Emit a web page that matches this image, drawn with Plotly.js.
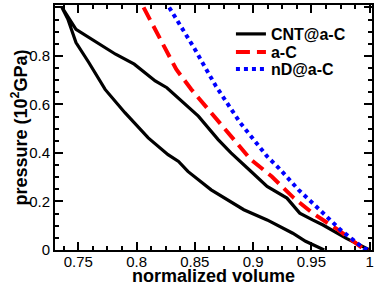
<!DOCTYPE html>
<html>
<head>
<meta charset="utf-8">
<script src="https://cdn.plot.ly/plotly-3.0.1.min.js"></script>
<style>html,body{margin:0;padding:0;background:#fff;}#chart{width:374px;height:285px;}</style>
</head>
<body>
<div id="chart"></div>
<script>
// CNT@a-C: hysteresis loop (lower branch from V=0.961 up to P=1, then upper branch down to V=1)
var cntVolume = [0.961, 0.945, 0.934, 0.912, 0.892, 0.864, 0.844, 0.836, 0.827, 0.810, 0.790, 0.773, 0.759, 0.748, 0.741, 0.736,
                 0.748, 0.757, 0.766, 0.782, 0.798, 0.816, 0.826, 0.844, 0.853, 0.870, 0.881, 0.895, 0.912, 0.929, 0.940, 0.951, 0.960, 0.980, 1.0];
var cntPressure = [0.0, 0.036, 0.069, 0.124, 0.166, 0.248, 0.324, 0.365, 0.393, 0.462, 0.566, 0.662, 0.773, 0.855, 0.952, 1.0,
                   0.91, 0.883, 0.855, 0.807, 0.766, 0.697, 0.669, 0.593, 0.552, 0.455, 0.400, 0.338, 0.262, 0.214, 0.152, 0.124, 0.103, 0.048, 0.0];
// a-C
var acVolume = [0.806, 0.820, 0.834, 0.847, 0.858, 0.878, 0.898, 0.916, 0.935, 0.951, 0.973, 0.994, 1.0];
var acPressure = [1.0, 0.869, 0.745, 0.662, 0.600, 0.483, 0.373, 0.303, 0.214, 0.152, 0.083, 0.007, 0.0];
// nD@a-C
var ndVolume = [0.828, 0.840, 0.850, 0.855, 0.868, 0.889, 0.912, 0.922, 0.939, 0.957, 0.975, 0.995, 1.0];
var ndPressure = [1.0, 0.91, 0.828, 0.785, 0.676, 0.524, 0.386, 0.338, 0.248, 0.166, 0.083, 0.007, 0.0];

var seriesNames = ["CNT@a-C", "a-C", "nD@a-C"];
var xTitle = "normalized volume";
var yTitle = "pressure (10<sup>2</sup>GPa)";

var FONT = "Liberation Sans, Arial, Helvetica, sans-serif";

var traces = [
  {x: cntVolume, y: cntPressure, mode: 'lines', name: '<b>' + seriesNames[0] + '</b>', legend: 'legend',
   line: {color: '#000000', width: 3.2}},
  {x: acVolume, y: acPressure, mode: 'lines', name: '<b>' + seriesNames[1] + '</b>', legend: 'legend2',
   line: {color: '#ff0000', width: 4, dash: '14px,7px'}},
  {x: ndVolume, y: ndPressure, mode: 'lines', name: '<b>' + seriesNames[2] + '</b>', legend: 'legend3',
   line: {color: '#0000ff', width: 4, dash: '4px,4px'}}
];

function leg(y) {
  return {x: 0.555, xanchor: 'left', y: y, yanchor: 'middle', bgcolor: 'rgba(0,0,0,0)', borderwidth: 0,
          font: {family: FONT, size: 16, color: '#000'}, itemwidth: 30};
}

var axisCommon = {
  showgrid: false, zeroline: false, showline: true, linecolor: '#000', linewidth: 2, mirror: 'allticks',
  ticks: 'inside', ticklen: 8, tickwidth: 2, tickcolor: '#000',
  tickfont: {family: FONT, size: 15, color: '#000'}
};

var layout = {
  width: 374, height: 285,
  margin: {l: 55, r: 2, t: 5, b: 35},
  paper_bgcolor: '#fff', plot_bgcolor: '#fff',
  showlegend: true,
  legend: leg(0.8816), legend2: leg(0.8082), legend3: leg(0.7388),
  xaxis: Object.assign({}, axisCommon, {
    range: [0.73, 1.002], tick0: 0.75, dtick: 0.05, ticklabelstandoff: -3,
    minor: {dtick: 0.0125, tick0: 0.75, ticks: 'inside', ticklen: 4, tickwidth: 2, tickcolor: '#000'}
  }),
  yaxis: Object.assign({}, axisCommon, {
    range: [0, 1.01], tick0: 0, dtick: 0.2,
    minor: {dtick: 0.05, tick0: 0, ticks: 'inside', ticklen: 4, tickwidth: 2, tickcolor: '#000'}
  }),
  annotations: [
    {text: '<b>' + xTitle + '</b>', xref: 'paper', yref: 'paper', x: 0.5, y: -0.106,
     xanchor: 'center', yanchor: 'middle', showarrow: false, font: {family: FONT, size: 18, color: '#000'}},
    {text: '<b>' + yTitle + '</b>', xref: 'paper', yref: 'paper', x: -0.1104, y: 0.5, textangle: -90,
     xanchor: 'center', yanchor: 'middle', showarrow: false, font: {family: FONT, size: 18, color: '#000'}}
  ]
};

Plotly.newPlot('chart', traces, layout, {displayModeBar: false, staticPlot: true});
</script>
</body>
</html>
